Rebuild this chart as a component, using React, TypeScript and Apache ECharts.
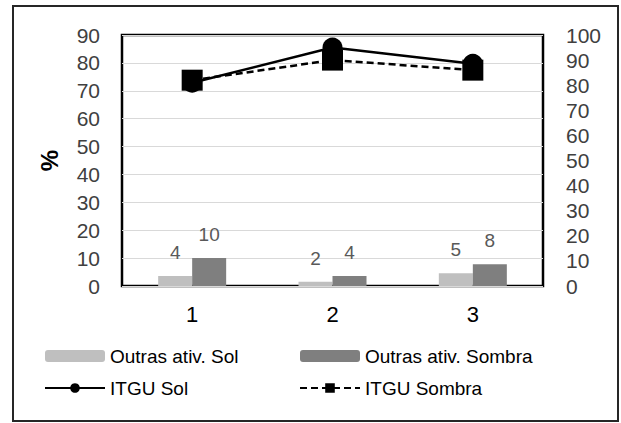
import React, { useEffect, useRef } from "react";
import * as echarts from "echarts";

const categories = ["1", "2", "3"];
const outrasSol = [3.6, 1.5, 4.6];
const outrasSombra = [10, 3.6, 7.8];
const itguSol = [81, 95, 88.5];
const itguSombra = [82, 90, 86];

export default function App() {
  const ref = useRef<HTMLDivElement>(null);
  useEffect(() => {
    if (!ref.current) return;
    const chart = echarts.init(ref.current, null, { renderer: "svg" });
    const axisFont = "'Liberation Sans', Arial, sans-serif";
    const legendFont = "'Liberation Sans Narrow', 'Arial Narrow', 'Liberation Sans', sans-serif";
    const barLabel = {
      show: true,
      position: "top" as const,
      distance: 14,
      color: "#595959",
      fontSize: 19,
      fontFamily: axisFont,
      formatter: (p: any) => String(Math.round(p.value)),
    };
    const legendCommon = {
      orient: "vertical" as const,
      top: 340,
      itemWidth: 60,
      itemHeight: 12,
      itemGap: 10,
      textStyle: { fontSize: 19, lineHeight: 22, color: "#000", fontFamily: legendFont },
    };
    chart.setOption({
      animation: false,
      backgroundColor: "#fff",
      graphic: [
        {
          type: "rect",
          shape: { x: 13, y: 6, width: 605, height: 415 },
          style: { fill: "none", stroke: "#262626", lineWidth: 2 },
          silent: true,
        },
      ],
      grid: {
        left: 122,
        right: 78,
        top: 35,
        bottom: 137,
        show: true,
        borderColor: "#000",
        borderWidth: 2.5,
        backgroundColor: "transparent",
      },
      legend: [
        { ...legendCommon, left: 39, data: ["Outras ativ. Sol", "ITGU Sol"] },
        { ...legendCommon, left: 294, data: ["Outras ativ. Sombra", "ITGU Sombra"] },
      ],
      xAxis: {
        type: "category",
        data: categories,
        axisLine: { show: false },
        axisTick: { show: false },
        axisLabel: { fontSize: 22, color: "#000", margin: 17, fontFamily: axisFont },
      },
      yAxis: [
        {
          type: "value",
          min: 0,
          max: 90,
          interval: 10,
          name: "%",
          nameLocation: "middle",
          nameGap: 61,
          nameTextStyle: { fontSize: 24, color: "#000", fontWeight: "bold", fontFamily: axisFont },
          axisLine: { show: false },
          axisTick: { show: false },
          axisLabel: { fontSize: 21, color: "#404040", margin: 22, fontFamily: axisFont },
          splitLine: { show: true, lineStyle: { color: "#d9d9d9", width: 1 } },
        },
        {
          type: "value",
          min: 0,
          max: 100,
          interval: 10,
          position: "right",
          axisLine: { show: false },
          axisTick: { show: false },
          axisLabel: { fontSize: 21, color: "#404040", margin: 23, fontFamily: axisFont },
          splitLine: { show: false },
        },
      ],
      series: [
        {
          name: "Outras ativ. Sol",
          type: "bar",
          yAxisIndex: 0,
          data: outrasSol,
          barWidth: 34,
          barGap: "0%",
          itemStyle: { color: "#bfbfbf" },
          label: barLabel,
        },
        {
          name: "Outras ativ. Sombra",
          type: "bar",
          yAxisIndex: 0,
          data: outrasSombra,
          barWidth: 34,
          barGap: "0%",
          itemStyle: { color: "#7f7f7f" },
          label: barLabel,
        },
        {
          name: "ITGU Sol",
          type: "line",
          yAxisIndex: 1,
          data: itguSol,
          symbol: "circle",
          symbolSize: 20,
          itemStyle: { color: "#000" },
          lineStyle: { color: "#000", width: 2.5, type: "solid" },
        },
        {
          name: "ITGU Sombra",
          type: "line",
          yAxisIndex: 1,
          data: itguSombra,
          symbol: "rect",
          symbolSize: 21,
          itemStyle: { color: "#000" },
          lineStyle: { color: "#000", width: 2.5, type: [7, 4] },
        },
      ],
    });
    return () => chart.dispose();
  }, []);
  return (
    <div
      ref={ref}
      style={{ position: "absolute", left: 0, top: 0, width: 621, height: 423, background: "#fff" }}
    />
  );
}
